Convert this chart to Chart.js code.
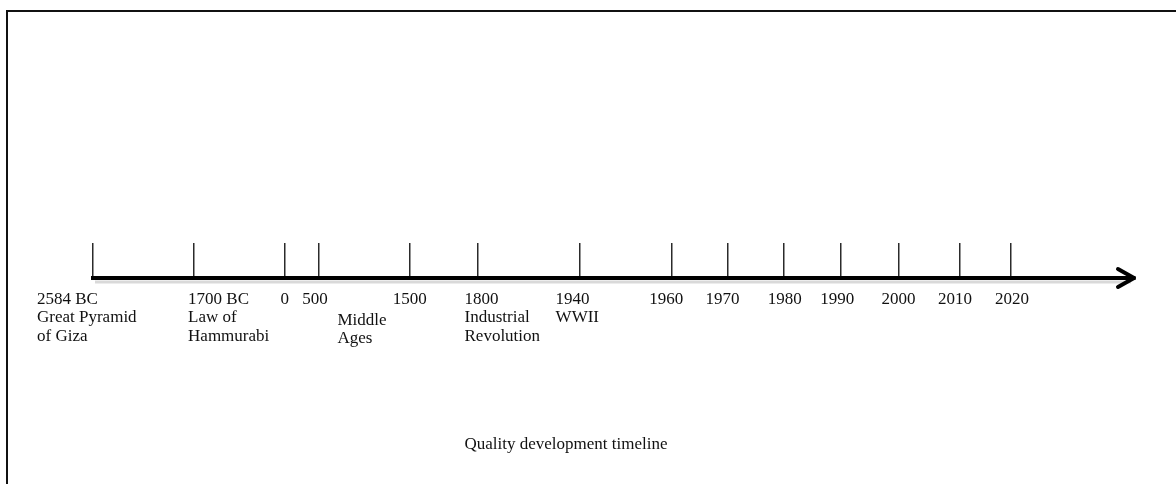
<!DOCTYPE html>
<html>
<head>
<meta charset="utf-8">
<title>Quality development timeline</title>
<script src="https://cdn.jsdelivr.net/npm/chart.js@4.4.1/dist/chart.umd.min.js"></script>
<style>
  html, body { margin: 0; padding: 0; background: #fff; }
  #wrap { position: relative; width: 1176px; height: 484px; overflow: hidden; }
  #frame { position: absolute; left: 6px; top: 10px; right: -10px; bottom: -10px; border-left: 2px solid #111; border-top: 2px solid #111; }
  canvas { position: absolute; left: 0; top: 0; }
</style>
</head>
<body>
<div id="wrap">
  <div id="frame"></div>
  <canvas id="timeline" width="1176" height="484"></canvas>
</div>
<script>
// Events along the timeline (the axis is not to scale, 0..100 is its length)
const eventPos = [0, 9.7, 18.4, 21.7, 30.4, 36.9, 46.7, 55.5, 60.9, 66.3, 71.8, 77.3, 83.2, 88.1];
const eventYears = ['2584 BC', '1700 BC', '0', '500', '1500', '1800', '1940', '1960', '1970', '1980', '1990', '2000', '2010', '2020'];
const eventNotes = [['Great Pyramid', 'of Giza'], ['Law of', 'Hammurabi'], [], [], [], ['Industrial', 'Revolution'], ['WWII'], [], [], [], [], [], [], []];

// Eras written between two events
const eraNames = [['Middle', 'Ages']];
const eraFrom = ['500'];
const eraTo = ['1500'];

const chartTitle = 'Quality development timeline';

// label layout (text boxes in the original are placed by hand)
const labelFont = '17px "Liberation Serif", "Times New Roman", serif';
const labelAlign = ['left', 'left', 'center', 'center', 'center', 'left', 'left', 'center', 'center', 'center', 'center', 'center', 'center', 'center'];
const labelNudge = [-56, -6, 0, -4, 0, -13, -24, -5, -5, 1, -4, 0, -5, 1];
const lineStep = 18.3;

const timelinePlugin = {
    id: 'timelineLabels',
    beforeDraw(chart) {
        // soft shadow under the axis line
        const { ctx, chartArea } = chart;
        ctx.save();
        ctx.strokeStyle = 'rgba(0, 0, 0, 0.15)';
        ctx.lineWidth = 3;
        ctx.beginPath();
        ctx.moveTo(chartArea.left + 2, chartArea.bottom + 4);
        ctx.lineTo(chartArea.right - 4, chartArea.bottom + 4);
        ctx.stroke();
        ctx.restore();
    },
    afterDraw(chart) {
        const { ctx, chartArea } = chart;
        const x = chart.scales.x;
        const axisY = chartArea.bottom;

        ctx.save();
        ctx.font = labelFont;
        ctx.fillStyle = '#111';
        ctx.textBaseline = 'alphabetic';

        eventYears.forEach((year, i) => {
            const px = x.getPixelForValue(eventPos[i]) + labelNudge[i];
            ctx.textAlign = labelAlign[i];
            [year].concat(eventNotes[i]).forEach((line, j) => {
                ctx.fillText(line, px, axisY + 26 + j * lineStep);
            });
        });

        eraNames.forEach((lines, i) => {
            const a = x.getPixelForValue(eventPos[eventYears.indexOf(eraFrom[i])]);
            const b = x.getPixelForValue(eventPos[eventYears.indexOf(eraTo[i])]);
            ctx.textAlign = 'left';
            lines.forEach((line, j) => {
                ctx.fillText(line, (a + b) / 2 - 27, axisY + 47 + j * lineStep);
            });
        });

        // arrow head at the end of the axis
        const tip = chartArea.right - 1;
        ctx.strokeStyle = '#000';
        ctx.lineWidth = 4;
        ctx.lineCap = 'round';
        ctx.lineJoin = 'round';
        ctx.beginPath();
        ctx.moveTo(tip - 16, axisY - 9);
        ctx.lineTo(tip, axisY);
        ctx.lineTo(tip - 16, axisY + 9);
        ctx.stroke();

        // caption
        ctx.textAlign = 'center';
        ctx.fillText(chartTitle, 566, chart.height - 35);
        ctx.restore();
    }
};

const timelineChart = new Chart(document.getElementById('timeline').getContext('2d'), {
    type: 'scatter',
    data: { datasets: [] },
    options: {
        responsive: false,
        animation: false,
        devicePixelRatio: 1,
        layout: {
            padding: { top: 243, bottom: 206, left: 93, right: 41 }
        },
        plugins: {
            legend: { display: false },
            tooltip: { enabled: false }
        },
        scales: {
            x: {
                type: 'linear',
                min: 0,
                max: 100,
                afterBuildTicks: (scale) => {
                    scale.ticks = eventPos.map(v => ({ value: v }));
                },
                ticks: { display: false },
                grid: { drawTicks: false, color: '#2b2b2b', lineWidth: 1.5 },
                border: { color: '#000', width: 4 }
            },
            y: { display: false, min: 0, max: 1 }
        }
    },
    plugins: [timelinePlugin]
});
</script>
</body>
</html>
